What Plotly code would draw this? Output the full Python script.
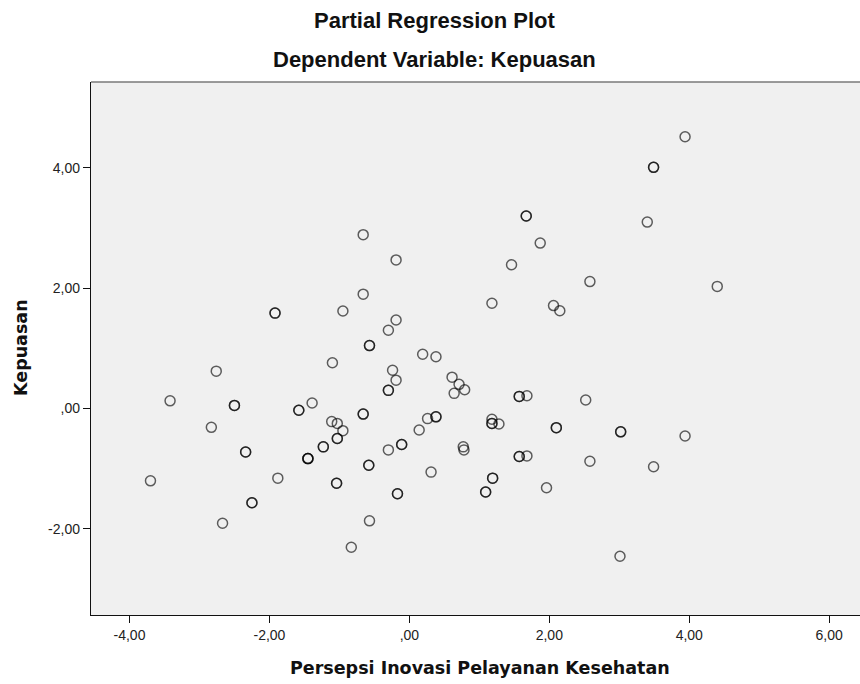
import plotly.graph_objects as go

# Partial regression residuals: x = Persepsi Inovasi Pelayanan Kesehatan, y = Kepuasan
# (cases that coincide on the plot are listed once per case)
x_vals = [
    -0.66, -0.19, -0.66, -0.95, -0.19, -0.30, 1.46, 1.18, 3.94, 1.87,
    3.40, 2.58, 4.40, 2.06, 2.15, -2.76, -3.42, -2.83, -1.39, -3.70,
    -1.88, -2.67, -1.10, 0.19, -0.24, -0.19, -1.11, -1.03, -0.95, -0.30,
    -0.57, -0.83, 0.14, 0.26, 0.31, 0.38, 0.61, 0.71, 0.79, 0.64,
    1.68, 1.18, 1.28, 0.77, 0.78, 1.68, 2.52, 3.94, 2.58, 3.49,
    1.96, 3.01,
    -1.92, -1.92, -0.57, -0.57, 1.67, 1.67, 3.49, 3.49, -2.50, -2.50,
    -1.58, -1.58, -2.34, -2.34, -1.23, -1.23, -1.45, -1.45, -1.45,
    -2.25, -2.25, -0.30, -0.30, -0.66, -0.66, -1.03, -1.03, -0.11, -0.11,
    -0.58, -0.58, -1.04, -1.04, -0.17, -0.17, 0.38, 0.38, 1.18, 1.18,
    1.57, 1.57, 1.57, 1.57, 1.19, 1.19, 1.09, 1.09, 2.10, 2.10, 3.02, 3.02,
]
y_vals = [
    2.89, 2.47, 1.90, 1.62, 1.47, 1.30, 2.39, 1.75, 4.52, 2.75,
    3.10, 2.11, 2.03, 1.71, 1.625, 0.62, 0.126, -0.315, 0.09, -1.205,
    -1.16, -1.91, 0.76, 0.90, 0.635, 0.47, -0.22, -0.25, -0.37, -0.69,
    -1.87, -2.31, -0.36, -0.17, -1.06, 0.86, 0.52, 0.40, 0.31, 0.25,
    0.21, -0.18, -0.26, -0.64, -0.69, -0.79, 0.14, -0.46, -0.88, -0.97,
    -1.32, -2.46,
    1.585, 1.585, 1.045, 1.045, 3.20, 3.20, 4.01, 4.01, 0.05, 0.05,
    -0.03, -0.03, -0.725, -0.725, -0.64, -0.64, -0.835, -0.835, -0.835,
    -1.57, -1.57, 0.30, 0.30, -0.095, -0.095, -0.50, -0.50, -0.60, -0.60,
    -0.945, -0.945, -1.245, -1.245, -1.42, -1.42, -0.14, -0.14, -0.25, -0.25,
    0.20, 0.20, -0.80, -0.80, -1.16, -1.16, -1.39, -1.39, -0.32, -0.32, -0.39, -0.39,
]

x_tickvals = [-4, -2, 0, 2, 4, 6]
x_ticktext = ["-4,00", "-2,00", ",00", "2,00", "4,00", "6,00"]
y_tickvals = [-2, 0, 2, 4]
y_ticktext = ["-2,00", ",00", "2,00", "4,00"]

title_main = "Partial Regression Plot"
title_sub = "Dependent Variable: Kepuasan"
x_title = "Persepsi Inovasi Pelayanan Kesehatan"
y_title = "Kepuasan"

fig = go.Figure()
fig.add_trace(go.Scatter(
    x=x_vals, y=y_vals, mode="markers",
    marker=dict(symbol="circle-open", size=10,
                line=dict(color="rgba(0,0,0,0.62)", width=1.5),
                color="rgba(0,0,0,0.62)"),
    showlegend=False, hoverinfo="x+y",
))

tick_font = dict(family="Liberation Sans, Arial, sans-serif", size=14, color="#222")
axis_title_font = dict(family="DejaVu Sans, sans-serif", size=17.5, color="#111", weight="bold")
title_font = dict(family="Liberation Sans, Arial, sans-serif", size=22, color="#111", weight="bold")

fig.update_layout(
    width=860, height=684,
    margin=dict(l=91, r=0, t=82, b=69),
    paper_bgcolor="white",
    plot_bgcolor="#f0f0f0",
    xaxis=dict(range=[-4.55, 6.44], tickvals=x_tickvals, ticktext=x_ticktext,
               showgrid=False, zeroline=False, showline=True, linecolor="#111",
               linewidth=1.4, ticks="outside", ticklen=7, tickwidth=1.3,
               tickcolor="#111", tickfont=tick_font),
    yaxis=dict(range=[-3.437, 5.43], tickvals=y_tickvals, ticktext=y_ticktext,
               showgrid=False, zeroline=False, showline=True, linecolor="#111",
               linewidth=1.4, ticks="outside", ticklen=7, tickwidth=1.3,
               tickcolor="#111", tickfont=tick_font),
    shapes=[dict(type="line", xref="paper", yref="paper", x0=0, x1=1, y0=1, y1=1,
                 line=dict(color="#7a7a7a", width=1.6))],
    annotations=[
        dict(text=title_main, xref="paper", yref="paper", x=0.447, y=1.1145,
             xanchor="center", yanchor="middle", showarrow=False, font=title_font),
        dict(text=title_sub, xref="paper", yref="paper", x=0.447, y=1.042,
             xanchor="center", yanchor="middle", showarrow=False, font=title_font),
        dict(text=x_title, xref="paper", yref="paper", x=0.506, y=-0.0994,
             xanchor="center", yanchor="middle", showarrow=False, font=axis_title_font),
        dict(text=y_title, xref="paper", yref="paper", x=-0.091, y=0.501,
             xanchor="center", yanchor="middle", showarrow=False, textangle=-90,
             font=axis_title_font),
    ],
)

fig.write_html("out.html")
